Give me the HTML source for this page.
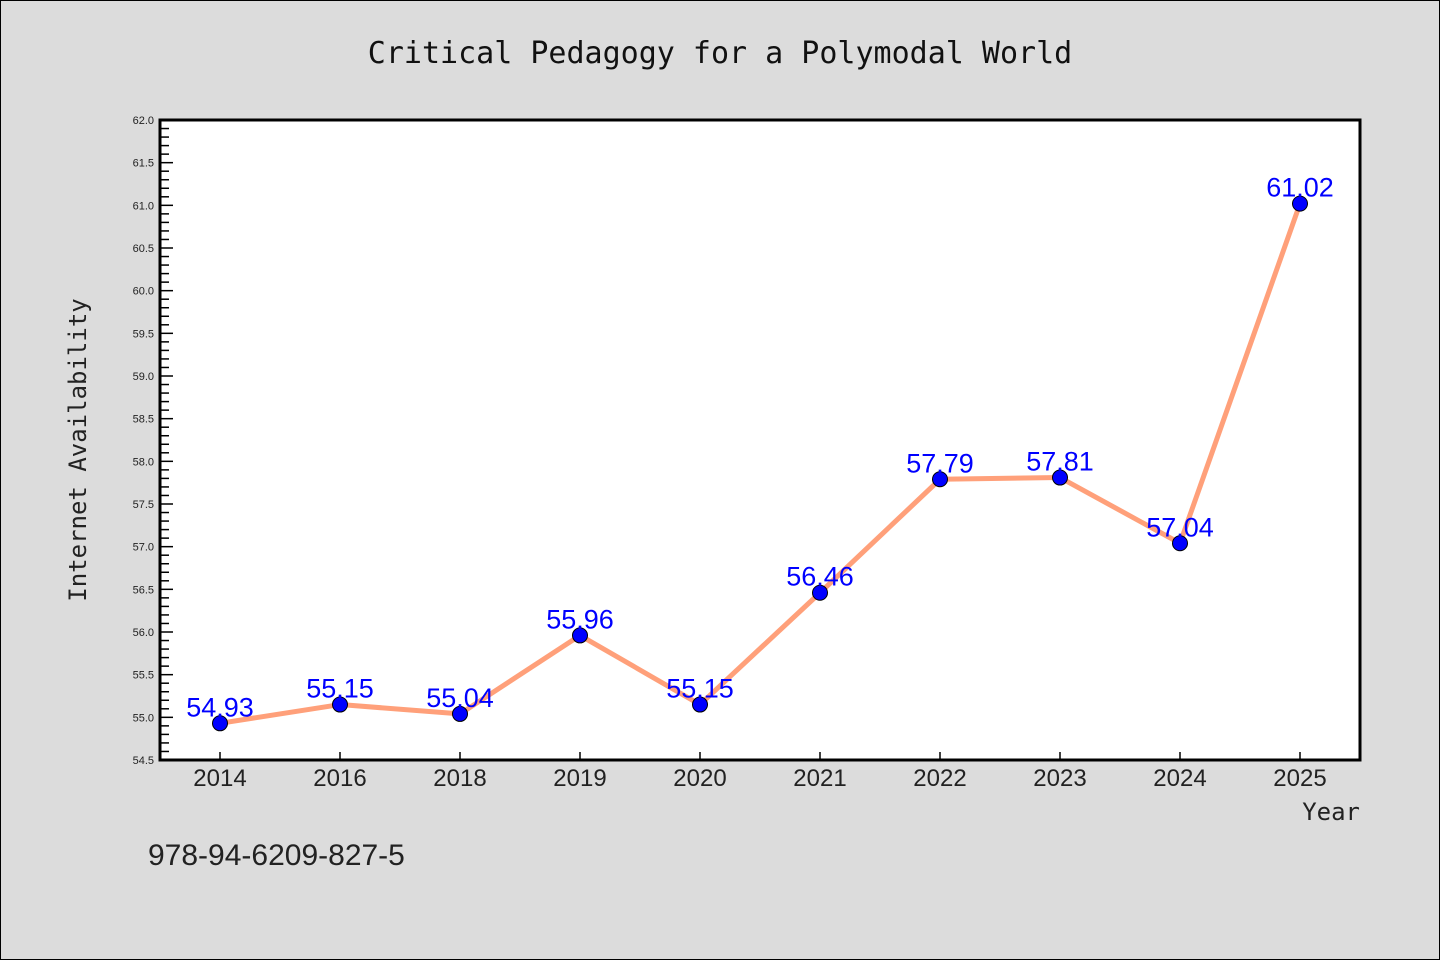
<!DOCTYPE html>
<html><head><meta charset="utf-8"><style>
body{margin:0;background:#dcdcdc;}
svg{display:block;font-family:"Liberation Sans","DejaVu Sans",sans-serif;}
</style></head><body>
<svg id="chart" width="1440" height="960">
<rect x="0.5" y="0.5" width="1439" height="959" fill="#dcdcdc" stroke="#000"/>
<text x="720" y="63" text-anchor="middle" font-size="30" font-family="'DejaVu Sans Mono','Liberation Mono',monospace" fill="#111">Critical Pedagogy for a Polymodal World</text>
<rect x="160" y="120" width="1200" height="640" fill="#fff"/>
<g id="yaxis"></g><g id="xaxis"></g><g id="series"></g>
<rect x="160" y="120" width="1200" height="640" fill="none" stroke="#000" stroke-width="3"/>
<text x="86" y="450" text-anchor="middle" font-size="24" font-family="'DejaVu Sans Mono','Liberation Mono',monospace" fill="#222" transform="rotate(-90 86 450)">Internet Availability</text>
<text x="1360" y="820" text-anchor="end" font-size="24" font-family="'DejaVu Sans Mono','Liberation Mono',monospace" fill="#222">Year</text>
<text x="148" y="865" font-size="30" fill="#222">978-94-6209-827-5</text>
</svg>
<script>
const categories=["2014","2016","2018","2019","2020","2021","2022","2023","2024","2025"];
const values=[54.93,55.15,55.04,55.96,55.15,56.46,57.79,57.81,57.04,61.02];
const valueLabels=["54.93","55.15","55.04","55.96","55.15","56.46","57.79","57.81","57.04","61.02"];
const yTicks=[54.5,55.0,55.5,56.0,56.5,57.0,57.5,58.0,58.5,59.0,59.5,60.0,60.5,61.0,61.5,62.0];
const yMin=54.5,yMax=62.0,L=160,R=1360,T=120,B=760;
const NS="http://www.w3.org/2000/svg";
function y(v){return B-(v-yMin)/(yMax-yMin)*(B-T);}
function x(i){const w=(R-L)/categories.length;return L+w*(i+0.5);}
function mk(t,a,p){const e=document.createElementNS(NS,t);for(const k in a)e.setAttribute(k,a[k]);p.appendChild(e);return e;}
const ya=document.getElementById('yaxis'),xa=document.getElementById('xaxis'),se=document.getElementById('series');
for(let k=Math.round(yMin*10);k<=Math.round(yMax*10);k++){
  const v=k/10,maj=k%5===0;
  const l=mk('line',{x1:L,x2:L+(maj?13:9),y1:y(v),y2:y(v),stroke:'#000','stroke-width':1.5},ya);
  
  
}
yTicks.forEach(v=>{
  const t=mk('text',{x:L-6,y:y(v)+4,'text-anchor':'end','font-size':11,fill:'#222'},ya);
  t.textContent=v.toFixed(1);
  
  
});
categories.forEach((c,i)=>{
  const l=mk('line',{x1:x(i),x2:x(i),y1:B,y2:B-8,stroke:'#000','stroke-width':1.5},xa);
  
  
  const t=mk('text',{x:x(i),y:B+26,'text-anchor':'middle','font-size':24,fill:'#222'},xa);
  t.textContent=c;
  
  
});
const line=mk('polyline',{points:values.map((v,i)=>x(i)+','+y(v)).join(' '),fill:'none',stroke:'#ffa07a','stroke-width':5,'stroke-linejoin':'round'},se);


values.forEach((v,i)=>{
  const c=mk('circle',{cx:x(i),cy:y(v),r:7.5,fill:'#0000ff',stroke:'#000','stroke-width':1},se);
  
  
  const t=mk('text',{x:x(i),y:y(v)-7,'text-anchor':'middle','font-size':27,fill:'#0000ff'},se);
  t.textContent=valueLabels[i];
  
  
});
</script>
</body></html>
